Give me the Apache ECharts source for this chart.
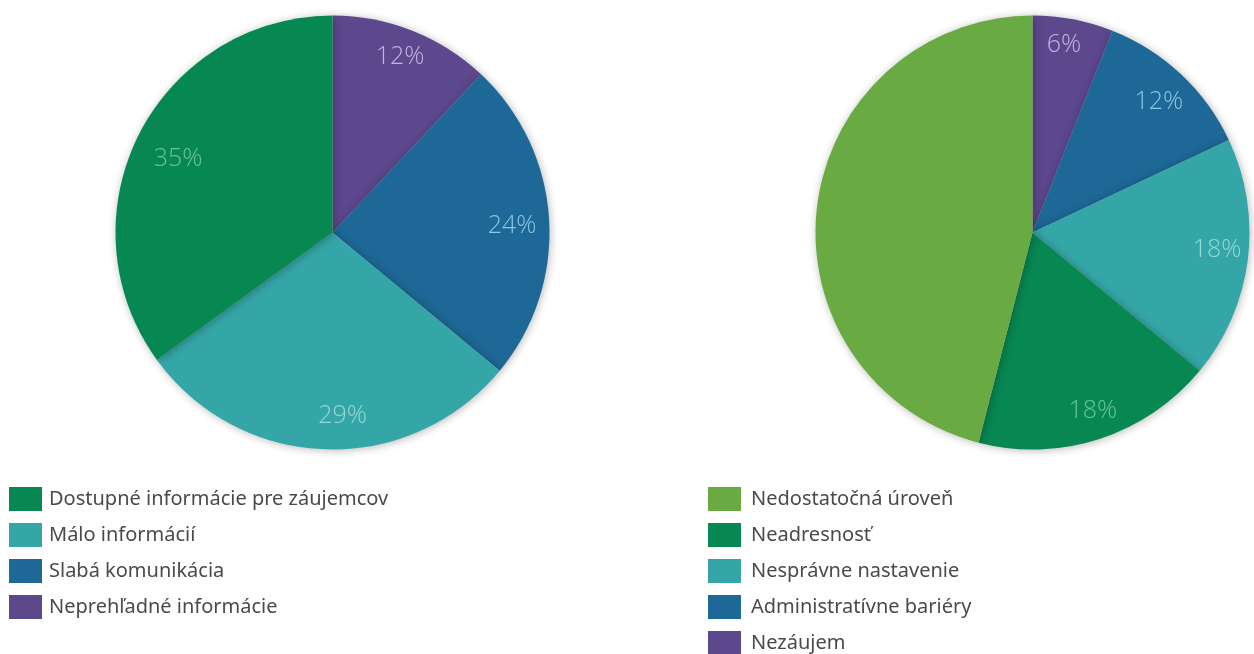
<!DOCTYPE html>
<html>
<head>
<meta charset="utf-8">
<style>
  html, body { margin: 0; padding: 0; background: #ffffff; }
  #chart { width: 1254px; height: 654px; }
</style>
<script src="https://cdn.jsdelivr.net/npm/echarts@6/dist/echarts.min.js"></script>
</head>
<body>
<div id="chart"></div>
<script>
// Left pie: reasons related to information (clockwise from the top)
const leftNames = ['Neprehľadné informácie', 'Slabá komunikácia', 'Málo informácií', 'Dostupné informácie pre záujemcov'];
const leftValues = [12, 24, 29, 35];
const leftLegendOrder = ['Dostupné informácie pre záujemcov', 'Málo informácií', 'Slabá komunikácia', 'Neprehľadné informácie'];

// Right pie: barriers (clockwise from the top)
const rightNames = ['Nezáujem', 'Administratívne bariéry', 'Nesprávne nastavenie', 'Neadresnosť', 'Nedostatočná úroveň'];
const rightValues = [6, 12, 18, 18, 46];
const rightLabelShown = [true, true, true, true, false];
const rightLegendOrder = ['Nedostatočná úroveň', 'Neadresnosť', 'Nesprávne nastavenie', 'Administratívne bariéry', 'Nezáujem'];

// small nudges of the percentage labels (px)
const leftLabelNudge = [[-2, 0], [-9, 5], [16, -6], [14, 12]];
const rightLabelNudge = [[-4, -2], [-3, 7], [-3, -6], [2, -1], [0, 0]];

const palette = {
  'Neprehľadné informácie': ['#5d478d', '#c3b3e0'],
  'Slabá komunikácia': ['#1d6896', '#8cc6e6'],
  'Málo informácií': ['#35a6a7', '#95d8d3'],
  'Dostupné informácie pre záujemcov': ['#078752', '#6cc597'],
  'Nezáujem': ['#5d478d', '#c3b3e0'],
  'Administratívne bariéry': ['#1d6896', '#8cc6e6'],
  'Nesprávne nastavenie': ['#35a6a7', '#95d8d3'],
  'Neadresnosť': ['#078752', '#6cc597'],
  'Nedostatočná úroveň': ['#6aaa43', '#b9dc9f']
};

const LABEL_FONT = '"Open Sans", "Noto Sans", sans-serif';
const LEGEND_FONT = '"Noto Sans", Lato, sans-serif';

function pieData(names, values) {
  return names.map((n, i) => ({
    name: n,
    value: values[i],
    itemStyle: { color: palette[n][0] }
  }));
}

function labelData(names, values, nudge, shown) {
  return names.map((n, i) => ({
    name: n,
    value: values[i],
    label: {
      show: shown ? shown[i] : true,
      color: palette[n][1],
      offset: nudge[i]
    }
  }));
}

function slices(center, names, values) {
  return {
    type: 'pie',
    center: center,
    radius: [0, 217],
    startAngle: 90,
    clockwise: true,
    label: { show: false },
    labelLine: { show: false },
    emphasis: { disabled: true },
    itemStyle: {
      borderWidth: 0,
      shadowBlur: 9,
      shadowOffsetX: 1,
      shadowOffsetY: 1,
      shadowColor: 'rgba(0,0,0,0.28)'
    },
    data: pieData(names, values)
  };
}

// transparent ring carrying the percentage labels near the rim
function labels(center, names, values, nudge, shown) {
  return {
    type: 'pie',
    center: center,
    radius: [155, 217],
    startAngle: 90,
    clockwise: true,
    silent: true,
    legendHoverLink: false,
    itemStyle: { color: 'transparent' },
    label: {
      show: true,
      position: 'inside',
      rotate: 0,
      formatter: '{c}%',
      fontFamily: LABEL_FONT,
      fontStyle: 'normal',
      fontSize: 25,
      fontWeight: 300
    },
    labelLine: { show: false },
    emphasis: { disabled: true },
    data: labelData(names, values, nudge, shown)
  };
}

function legend(left, order, textGap) {
  return {
    orient: 'vertical',
    left: left,
    top: 487,
    height: 200,
    padding: 0,
    itemWidth: 33,
    itemHeight: 24,
    itemGap: 12,
    icon: 'rect',
    selectedMode: false,
    data: order,
    textStyle: {
      fontFamily: LEGEND_FONT,
      fontSize: 20,
      color: '#4a4a4a',
      padding: [0, 0, 0, textGap]
    }
  };
}

const chart = echarts.init(document.getElementById('chart'));
chart.setOption({
  animation: false,
  backgroundColor: '#ffffff',
  legend: [legend(9, leftLegendOrder, 2), legend(708, rightLegendOrder, 5)],
  series: [
    slices([332.5, 232.5], leftNames, leftValues),
    labels([332.5, 232.5], leftNames, leftValues, leftLabelNudge),
    slices([1032.5, 232.5], rightNames, rightValues),
    labels([1032.5, 232.5], rightNames, rightValues, rightLabelNudge, rightLabelShown)
  ]
});
</script>
</body>
</html>
